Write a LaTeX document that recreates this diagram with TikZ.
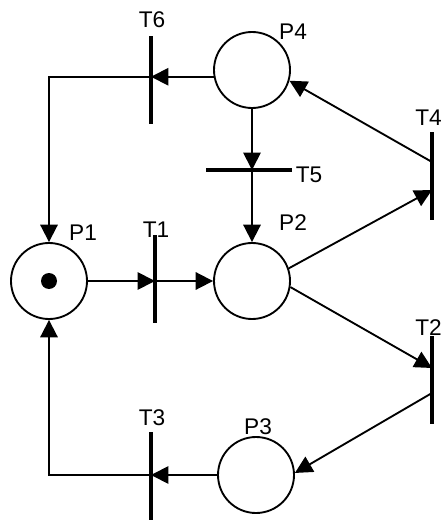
\documentclass[tikz,border=0pt]{standalone}
\usepackage{fontspec}
\setmainfont{Liberation Sans}
\usetikzlibrary{arrows.meta,calc}
\begin{document}
\begin{tikzpicture}[x=0.75pt,y=-0.75pt,
  place/.style={circle,draw,line width=1.4pt,minimum size=57pt,inner sep=0pt},
  vbar/.style={fill=black,inner sep=0pt,minimum width=3.2pt,minimum height=66pt},
  hbar/.style={fill=black,inner sep=0pt,minimum width=64pt,minimum height=3.2pt},
  arc/.style={line width=1.4pt,-{Triangle[length=13pt,width=13pt]}},
  lbl/.style={font=\fontsize{17}{19}\selectfont,inner sep=0pt}]
\useasboundingbox (0,0) rectangle (441,520);
\fill[white] (0,0) rectangle (441,520);
% places
\node[place] (P1) at (49,281) {};
\node[circle,fill=black,inner sep=0pt,minimum size=12pt] (tok) at (P1) {};
\node[place] (P2) at (252,281) {};
\node[place] (P3) at (256,475) {};
\node[place] (P4) at (252,70) {};
% transitions
\node[vbar] (T1) at (155,279) {};
\node[vbar] (T2) at (432,380) {};
\node[vbar] (T3) at (151,476) {};
\node[vbar] (T4) at (432,176) {};
\node[hbar] (T5) at (249,170) {};
\node[vbar] (T6) at (151,80) {};
% labels
\node[lbl] (lT6) at (152,20) {T6};
\node[lbl] (lP4) at (293,32) {P4};
\node[lbl] (lT5) at (309,175) {T5};
\node[lbl,anchor=west] (lT4) at (415,118) {T4};
\node[lbl] (lP1) at (83,233) {P1};
\node[lbl] (lT1) at (156,230) {T1};
\node[lbl] (lP2) at (293,223) {P2};
\node[lbl,anchor=west] (lT2) at (415,328) {T2};
\node[lbl] (lT3) at (152,418) {T3};
\node[lbl] (lP3) at (258,427) {P3};
% arcs
\draw[arc] (P4.190) -- (P4.190 -| T6);
\draw[arc] (P4.190 -| T6) -| (P1.north);
\draw[arc] (P4.south) -- (P4.south |- T5);
\draw[arc] (P4.south |- T5) -- (P2.north);
\draw[arc] (P1.east) -- (P1.east -| T1);
\draw[arc] (P1.east -| T1) -- (P2.west);
\draw[arc] (P2.19) -- ($(T4.center)+(0,14)$);
\draw[arc] ($(T4.center)+(0,-14)$) -- (P4.-16);
\draw[arc] (P2.-9) -- ($(T2.center)+(0,-12)$);
\draw[arc] ($(T2.center)+(0,13)$) -- (P3.3);
\draw[arc] (P3.west) -- (P3.west -| T3);
\draw[arc] (P3.west -| T3) -| (P1.south);
\end{tikzpicture}
\end{document}
